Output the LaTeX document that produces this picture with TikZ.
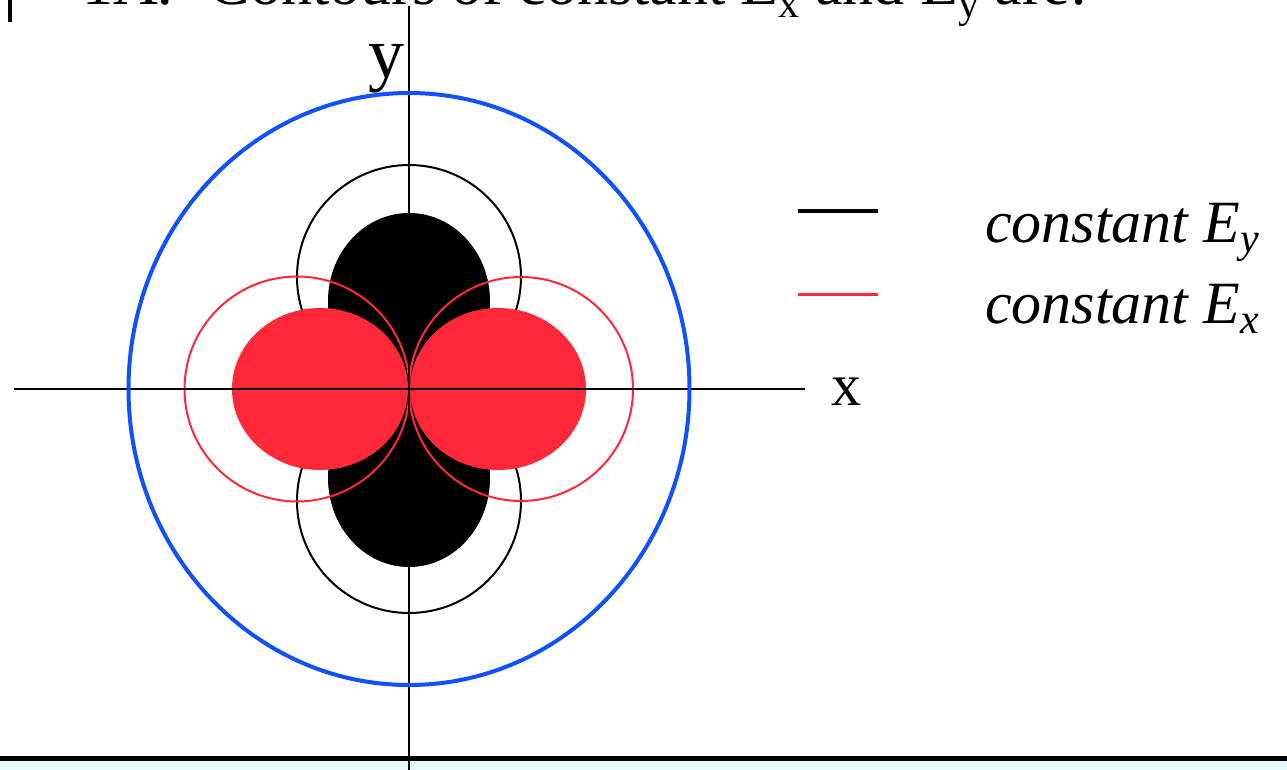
\documentclass[tikz,border=0pt]{standalone}
\usepackage{fontspec}
\setmainfont{Liberation Serif}
\usepackage{tikz}
\usetikzlibrary{positioning, calc}
\definecolor{fieldred}{RGB}{255,40,56}
\definecolor{fieldblue}{RGB}{15,80,255}
\definecolor{stripcyan}{RGB}{226,250,255}
\newcommand{\lowsub}[1]{\raisebox{-13pt}{\fontsize{42}{48}\selectfont #1}}

\begin{document}
\begin{tikzpicture}[
    x=1pt, y=-1pt,
    axis/.style={line width=2pt, black},
    ycont/.style={line width=2pt, black},
    xcont/.style={line width=2pt, fieldred},
    yfill/.style={fill=black},
    xfill/.style={fill=fieldred},
    outer/.style={line width=4pt, fieldblue},
    legtext/.style={anchor=base west, inner sep=0pt,
                    font=\fontsize{60}{70}\selectfont\itshape},
    lbl/.style={anchor=base west, inner sep=0pt}
  ]
  \path[use as bounding box, clip] (0,0) rectangle (1287,770);

  % Origin and axis ends
  \coordinate (O) at (409,389);
  \coordinate (xl) at (14,389);
  \coordinate (xr) at (805,389);
  \coordinate (yt) at (409,6);
  \coordinate (yb) at (409,770);

  % Bottom strip
  \fill[stripcyan] (0,761) rectangle (1287,770);
  \coordinate (bl) at (0,758);
  \coordinate (br) at (1287,758);
  \draw[line width=5pt] (bl) -- (br);

  % Title (cut off at the top)
  \node[lbl, font=\fontsize{62}{70}\selectfont] (title) at (82,5)
    {1A.\hspace{0.57em}Contours of constant E\lowsub{x} and E\lowsub{y} are:};
  \coordinate (bart) at (10,0);
  \coordinate (barb) at (10,22);
  \draw[line width=4pt] (bart) -- (barb);

  % Constant E_y contours
  \draw[ycont] (409,277) circle [radius=112];
  \draw[ycont] (409,501) circle [radius=112];
  \fill[yfill] (409,301) ellipse [x radius=81, y radius=88];
  \fill[yfill] (409,478) ellipse [x radius=81, y radius=89];

  % Constant E_x contours
  \fill[xfill] (320,389) ellipse [x radius=88, y radius=81];
  \fill[xfill] (498,389) ellipse [x radius=88, y radius=81];
  \draw[xcont] (297,389) circle [radius=112.5];
  \draw[xcont] (521,389) circle [radius=112];

  % Axes
  \draw[axis] (xl) -- (xr);
  \draw[axis] (yt) -- (yb);
  \node[lbl, font=\fontsize{60}{70}\selectfont] (xlab) at (831,405) {x};
  \node[lbl, font=\fontsize{72}{80}\selectfont] (ylab) at (368,78) {y};

  % Outer circle
  \draw[outer] (O) ellipse [x radius=280.5, y radius=296];

  % Legend
  \coordinate (ly1) at (798,211);
  \coordinate (ly2) at (878,211);
  \coordinate (lx1) at (798,294);
  \coordinate (lx2) at (878,294);
  \draw[line width=3pt, black] (ly1) -- (ly2);
  \draw[line width=3pt, fieldred] (lx1) -- (lx2);
  \node[legtext] (legy) at (985,242) {constant E\textsubscript{y}};
  \node[legtext] (legx) at (985,323) {constant E\textsubscript{x}};
\end{tikzpicture}
\end{document}
